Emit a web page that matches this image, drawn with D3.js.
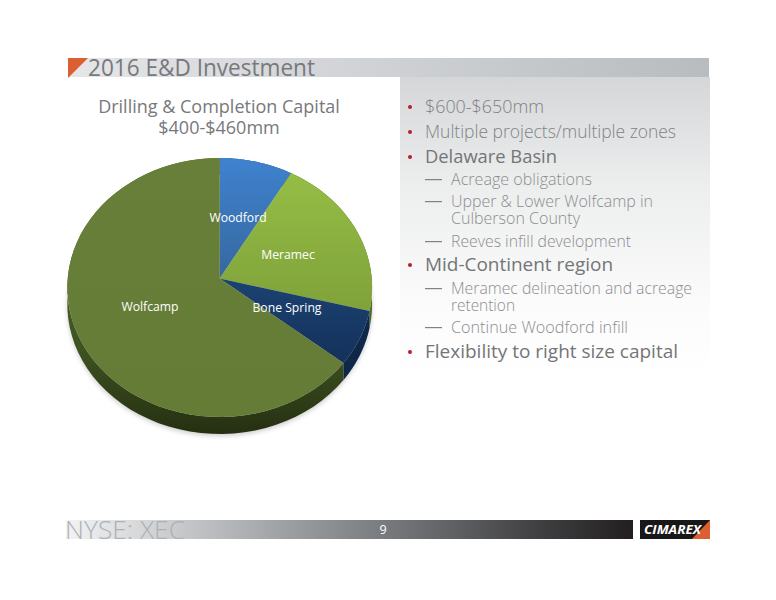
<!DOCTYPE html>
<html><head><meta charset="utf-8">
<script src="https://cdn.jsdelivr.net/npm/d3@7"></script>
<style>html,body{margin:0;padding:0;background:#fff}svg{display:block}text{font-family:"Open Sans","Noto Sans",sans-serif}</style>
</head><body><svg id="c" width="776" height="600"></svg>
<script>
const categories = ["Woodford","Meramec","Bone Spring","Wolfcamp"];
const shares = [8.3,20.7,6.8,64.2];
const chartTitle = ["Drilling & Completion Capital","$400-$460mm"];
const slideTitle = "2016 E&D Investment";
const footerLabel = "NYSE: XEC";
const pageNumber = "9";
const logoText = "CIMAREX";
const bulletLines = [
 ["$600-$650mm"],
 ["Multiple projects/multiple zones"],
 ["Delaware Basin"],
 ["Acreage obligations"],
 ["Upper & Lower Wolfcamp in","Culberson County"],
 ["Reeves infill development"],
 ["Mid-Continent region"],
 ["Meramec delineation and acreage","retention"],
 ["Continue Woodford infill"],
 ["Flexibility to right size capital"]
];
const bulletLevels = [0,0,0,1,1,1,0,1,1,0];
const bulletStrong = [false,false,true,false,false,false,true,false,false,true];

// ---- layout and style ----
const topColors = ["#3f82cf","#95bd45","#1c4272","#687f39"];
const topColorsLow = ["#36689f","#7fa23a","#14315a","#657c37"];
const sideColors = ["#2a5080","#4e6a22","#0f2847",null];
const labelPos = [[238,217],[288,253.5],[287,307],[150,306]];
const bulletY = [113,138,163,185,207,247,271,294,333,358];
const bulletW = [[119],[251],[132],[141],[202,129],[180],[188],[241,64],[177],[253]];

const svg = d3.select("#c"), defs = svg.append("defs");
function lg(id,stops,x2,y2){const g=defs.append("linearGradient").attr("id",id).attr("x1",0).attr("y1",0).attr("x2",x2).attr("y2",y2);
 stops.forEach(s=>g.append("stop").attr("offset",s[0]).attr("stop-color",s[1]).attr("stop-opacity",s[2]===undefined?1:s[2]));return `url(#${id})`;}
// slide furniture
svg.append("rect").attr("x",400).attr("y",77).attr("width",310).attr("height",300).attr("fill",lg("panel",[[0,"#d4d6d8"],[.35,"#eceded"],[.75,"#fbfbfb"],[1,"#fff"]],0,1));
svg.append("rect").attr("x",68).attr("y",58).attr("width",641).attr("height",19).attr("fill",lg("hdr",[[0,"#e4e6e8"],[1,"#b9bcbf"]],1,0));
svg.append("path").attr("d",d3.line()([[68,58],[88,58],[68,78]])+"Z").attr("fill","#dc5f32");
svg.append("text").attr("x",88).attr("y",76).attr("font-size",24.5).attr("fill","#77797c").attr("textLength",227).attr("lengthAdjust","spacingAndGlyphs").text(slideTitle);
svg.selectAll(".ct").data(chartTitle).join("text").attr("x",219).attr("y",(d,i)=>113+i*21).attr("text-anchor","middle").attr("font-size",18).attr("fill","#77797b").text(d=>d);
// bullets
const tx = svg.append("g");
bulletLines.forEach((lines,i)=>{
 const lvl=bulletLevels[i], y=bulletY[i], x=lvl===0?425:451;
 const t=tx.append("text").attr("font-size",lvl===0?18.5:15.5).attr("font-weight",bulletStrong[i]?500:300).attr("fill",bulletStrong[i]?"#737578":lvl===0?"#808285":"#8b8d90");
 lines.forEach((s,j)=>t.append("tspan").attr("x",x).attr("y",y+j*17).attr("textLength",bulletW[i][j]).attr("lengthAdjust","spacingAndGlyphs").text(s));
 if(lvl===0) tx.append("circle").attr("cx",410).attr("cy",y-6).attr("r",2).attr("fill","#b5202a");
 else tx.append("rect").attr("x",425).attr("y",y-6).attr("width",17).attr("height",1.2).attr("fill","#808285");
});
// pie: d3.pie angles drawn on a perspective-tilted disc
const cx=219.7, R=152, a=109.5, b=278.5, c=-0.0695, depth=17;
const proj=(ang)=>{const u=Math.sin(ang), v=-Math.cos(ang), d=1+c*v; return [cx+R*u/d,(a*v+b)/d];};
const apex=[cx,b];
const arcs=d3.pie().sort(null)(shares);
const line=d3.line();
const samples=(a0,a1)=>d3.range(0,1.0001,1/60).map(t=>proj(a0+(a1-a0)*t));
const wedge=d=>line([apex,...samples(d.startAngle,d.endAngle)])+"Z";
const whole=(dy=0)=>line(samples(0,2*Math.PI).map(p=>[p[0],p[1]+dy]))+"Z";
const blur=defs.append("filter").attr("id","sh").attr("x","-10%").attr("y","-10%").attr("width","120%").attr("height","125%");
blur.append("feGaussianBlur").attr("stdDeviation",2.5);
const g=svg.append("g");
g.append("path").attr("d",whole(depth+2)).attr("fill","#000").attr("opacity",.2).attr("filter","url(#sh)");
arcs.forEach((d,i)=>{
 const lo=samples(d.startAngle,d.endAngle);
 const band=lo.concat(lo.slice().reverse().map(p=>[p[0],p[1]+depth]));
 const fill=sideColors[i]||lg("side"+i,[[0,"#5a7030"],[.7,"#3e5220"],[.9,"#2d3b16"],[1,"#252f12"]],0,1);
 g.append("path").attr("d",line(band)+"Z").attr("fill",fill);
});
g.selectAll(".w").data(arcs).join("path").attr("class","w").attr("d",wedge)
 .attr("fill",(d,i)=>lg("w"+i,[[0,topColors[i]],[1,topColorsLow[i]]],0,1));
g.selectAll(".lab").data(categories).join("text").attr("x",(d,i)=>labelPos[i][0]).attr("y",(d,i)=>labelPos[i][1]+5)
 .attr("text-anchor","middle").attr("font-size",12.2).attr("fill","#fff").text(d=>d);
// footer
svg.append("rect").attr("x",66).attr("y",520).attr("width",567).attr("height",19).attr("fill",lg("ftr",[[0,"#f2f3f4"],[.18,"#cbcdcf"],[.5,"#85888b"],[.85,"#3c3c3e"],[1,"#231f20"]],1,0));
svg.append("text").attr("x",65).attr("y",538.5).attr("font-size",26).attr("font-weight",300).attr("fill","#aeb1b4").attr("textLength",120).attr("lengthAdjust","spacingAndGlyphs").text(footerLabel);
svg.append("text").attr("x",383).attr("y",534).attr("text-anchor","middle").attr("font-size",12.5).attr("fill","#fff").text(pageNumber);
svg.append("rect").attr("x",640).attr("y",520).attr("width",70).attr("height",19).attr("fill","#1a1718");
svg.append("path").attr("d",line([[710,520],[710,539],[692,539]])+"Z").attr("fill","#dc5f32");
svg.append("text").attr("x",644).attr("y",534).attr("font-size",12).attr("font-weight",700).attr("font-style","italic").attr("fill","#fff").attr("textLength",57).attr("lengthAdjust","spacingAndGlyphs").text(logoText);
</script></body></html>
